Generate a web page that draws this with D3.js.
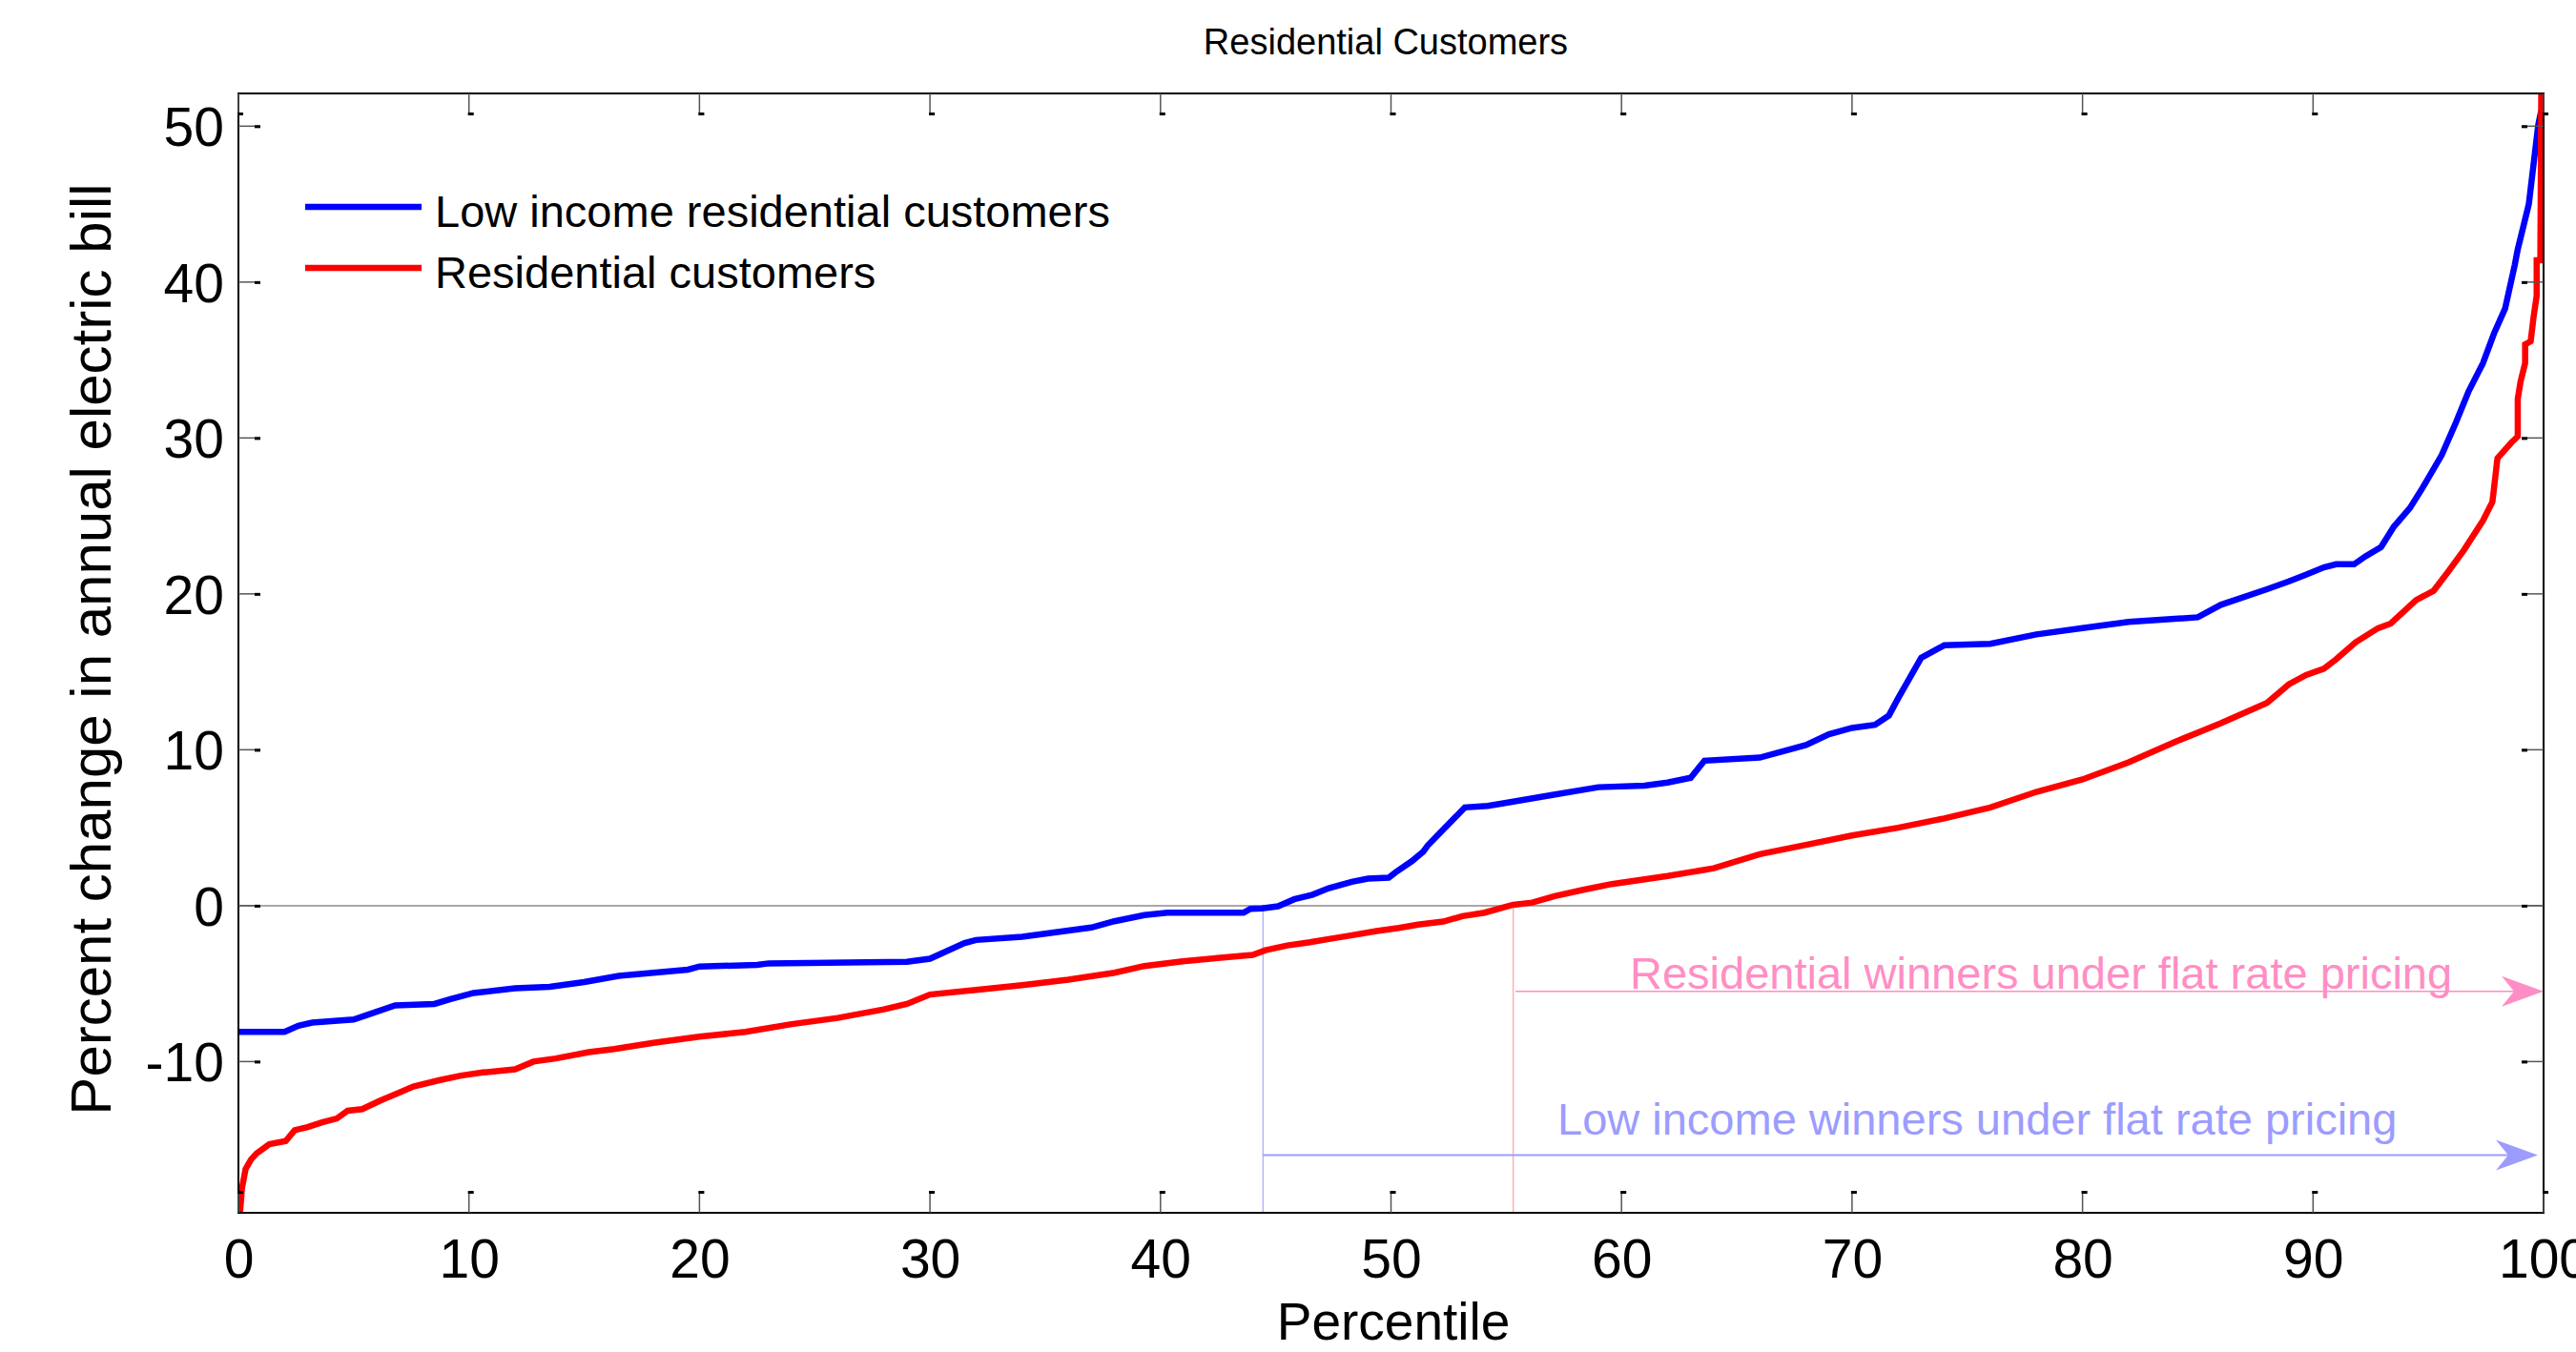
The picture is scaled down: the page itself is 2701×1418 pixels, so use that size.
<!DOCTYPE html>
<html>
<head>
<meta charset="utf-8">
<script src="https://cdn.jsdelivr.net/npm/d3@7"></script>
<style>
  html, body { margin: 0; padding: 0; background: #fff; }
  svg { display: block; font-family: "Liberation Sans", Arial, sans-serif; }
</style>
</head>
<body>
<svg id="chart" width="2701" height="1418"></svg>
<script>
// Percent change in annual bill by customer percentile: [percentile, percent change]
const lowIncome = [
  [0,-8.1],[2.0,-8.1],[2.6,-7.7],[3.2,-7.5],[5.0,-7.3],[5.6,-7.0],[6.8,-6.4],[8.5,-6.3],
  [9.2,-6.0],[10.2,-5.6],[12.0,-5.3],[13.5,-5.2],[15.0,-4.9],[16.5,-4.5],[18.0,-4.3],
  [19.5,-4.1],[20.0,-3.9],[22.5,-3.8],[23.0,-3.7],[29.0,-3.6],[30.0,-3.4],[31.5,-2.4],
  [32.0,-2.2],[34.0,-2.0],[35.0,-1.8],[37.0,-1.4],[38.0,-1.0],[39.3,-0.6],[40.3,-0.45],
  [43.6,-0.45],[43.9,-0.2],[44.4,-0.17],[45.1,-0.04],[45.8,0.41],[46.6,0.71],[47.3,1.12],
  [48.3,1.53],[49.0,1.73],[49.9,1.79],[50.2,2.14],[50.9,2.85],[51.4,3.47],[51.6,3.87],
  [53.2,6.3],[54.2,6.4],[55.0,6.6],[57.0,7.1],[59.0,7.6],[61.0,7.7],[62.0,7.9],[63.0,8.2],
  [63.6,9.3],[66.0,9.5],[68.0,10.3],[69.0,11.0],[70.0,11.4],[71.0,11.6],[71.6,12.2],
  [72.0,13.3],[73.0,15.9],[74.0,16.7],[76.0,16.8],[78.0,17.4],[80.0,17.8],[82.0,18.2],
  [84.0,18.4],[85.0,18.5],[86.0,19.3],[88.0,20.3],[88.95,20.8],[89.64,21.2],[90.47,21.7],
  [91.0,21.9],[91.78,21.9],[92.26,22.4],[92.95,23.0],[93.5,24.3],[94.2,25.5],[94.75,26.8],
  [95.58,28.9],[96.2,31.0],[96.75,33.0],[97.37,34.8],[97.85,36.7],[98.33,38.3],[98.75,41.1],
  [98.88,42.1],[99.36,45.0],[99.77,50.1],[99.9,51.0]
];

const residential = [
  [0.07,-19.7],[0.15,-18.15],[0.31,-16.9],[0.54,-16.3],[0.78,-15.9],[1.34,-15.3],[2.05,-15.1],
  [2.44,-14.4],[3.0,-14.2],[3.63,-13.9],[4.27,-13.65],[4.74,-13.15],[5.37,-13.05],[6.16,-12.5],
  [6.8,-12.1],[7.59,-11.6],[8.7,-11.2],[9.65,-10.9],[10.6,-10.7],[12.0,-10.5],[12.8,-10.0],
  [13.77,-9.8],[15.2,-9.4],[16.3,-9.2],[18.0,-8.8],[20.0,-8.4],[22.0,-8.1],[24.0,-7.6],
  [26.0,-7.2],[28.0,-6.65],[29.0,-6.3],[30.0,-5.7],[32.0,-5.4],[34.0,-5.1],[36.0,-4.75],
  [38.0,-4.3],[39.3,-3.87],[40.96,-3.57],[42.48,-3.36],[44.0,-3.16],[44.55,-2.86],[45.5,-2.55],
  [46.48,-2.35],[47.3,-2.14],[48.13,-1.94],[49.37,-1.63],[50.34,-1.43],[51.17,-1.22],
  [52.27,-1.02],[53.1,-0.67],[54.06,-0.45],[54.89,-0.1],[55.3,0.06],[56.13,0.2],[57.1,0.61],
  [58.34,1.02],[59.58,1.39],[62.0,1.9],[64.0,2.4],[66.0,3.3],[68.0,3.9],[70.0,4.5],[72.0,5.0],
  [74.0,5.6],[76.0,6.3],[78.0,7.3],[80.0,8.1],[82.0,9.2],[84.0,10.5],[86.0,11.7],[88.0,13.0],
  [88.95,14.2],[89.7,14.8],[90.47,15.2],[91.0,15.8],[91.85,16.9],[92.82,17.8],[93.37,18.1],
  [94.47,19.6],[95.23,20.2],[95.85,21.4],[96.54,22.8],[97.37,24.7],[97.78,25.9],[98.0,28.7],
  [98.6,29.7],[98.88,30.1],[98.88,32.5],[99.0,33.6],[99.2,34.8],[99.2,36.0],[99.44,36.2],
  [99.57,37.8],[99.7,39.1],[99.7,41.4],[99.86,41.4],[99.9,52.1]
];

const seriesNames = ["Low income residential customers", "Residential customers"];
const seriesColors = ["#0000ff", "#ff0000"];

const xTicks = [0, 10, 20, 30, 40, 50, 60, 70, 80, 90, 100];
const yTicks = [-10, 0, 10, 20, 30, 40, 50];
const xDomain = [0, 100];
const yDomain = [-19.7, 52.1];

// Break-even percentiles and the winner ranges marked with arrows
const lowIncomeBreakEven = 44.45;
const residentialBreakEven = 55.3;
const winnerArrows = [
  { label: "Residential winners under flat rate pricing", from: 55.4, to: 100, y: -5.5,
    color: "#ff8ec4", width: 1.6, textX: 1709, textDy: -3 },
  { label: "Low income winners under flat rate pricing", from: 44.45, to: 99.75, y: -16.0,
    color: "#9c9cff", width: 2.2, textX: 1633, textDy: -22 }
];

const svg = d3.select("#chart");
const W = 2701, H = 1418;
const margin = { left: 250, right: 34, top: 98, bottom: 146 };

const x = d3.scaleLinear().domain(xDomain).range([margin.left, W - margin.right]);
const y = d3.scaleLinear().domain(yDomain).range([H - margin.bottom, margin.top]);

const x0 = x.range()[0], x1 = x.range()[1];
const yB = y.range()[0], yT = y.range()[1];

// Title
svg.append("text")
  .attr("x", 1453).attr("y", 57)
  .attr("text-anchor", "middle")
  .attr("font-size", 38)
  .text("Residential Customers");

// Zero reference line
svg.append("line")
  .attr("x1", x0).attr("x2", x1)
  .attr("y1", y(0)).attr("y2", y(0))
  .attr("stroke", "#a8a8a8").attr("stroke-width", 2);

// Break-even verticals
svg.append("line")
  .attr("x1", x(lowIncomeBreakEven)).attr("x2", x(lowIncomeBreakEven))
  .attr("y1", y(0)).attr("y2", yB)
  .attr("stroke", "#b4b4ff").attr("stroke-width", 1.5);
svg.append("line")
  .attr("x1", x(residentialBreakEven)).attr("x2", x(residentialBreakEven))
  .attr("y1", y(0)).attr("y2", yB)
  .attr("stroke", "#ffb0b0").attr("stroke-width", 1.5);

// Winner arrows with labels
winnerArrows.forEach(a => {
  const ax = x(a.from), bx = x(a.to), ay = y(a.y);
  const L = 44, Wd = 16, notch = 13;
  svg.append("line")
    .attr("x1", ax).attr("x2", bx - L + notch)
    .attr("y1", ay).attr("y2", ay)
    .attr("stroke", a.color).attr("stroke-width", a.width);
  svg.append("path")
    .attr("d", `M${bx},${ay} L${bx - L},${ay - Wd} L${bx - L + notch},${ay} L${bx - L},${ay + Wd} Z`)
    .attr("fill", a.color);
  svg.append("text")
    .attr("x", a.textX).attr("y", ay + a.textDy)
    .attr("font-size", 47)
    .attr("fill", a.color)
    .text(a.label);
});

// Series lines
const line = d3.line().x(d => x(d[0])).y(d => y(d[1]));
svg.append("clipPath").attr("id", "plotClip")
  .append("rect").attr("x", x0).attr("y", yT - 4).attr("width", x1 - x0 + 4).attr("height", yB - yT + 8);

[lowIncome, residential].forEach((data, i) => {
  svg.append("path")
    .datum(data)
    .attr("clip-path", "url(#plotClip)")
    .attr("fill", "none")
    .attr("stroke", seriesColors[i])
    .attr("stroke-width", 6.5)
    .attr("stroke-linejoin", "miter")
    .attr("d", line);
});

// Axes box
svg.append("rect")
  .attr("x", x0).attr("y", yT)
  .attr("width", x1 - x0).attr("height", yB - yT)
  .attr("fill", "none").attr("stroke", "#000").attr("stroke-width", 2);

// Inward ticks on all four sides
const tickLen = 23;
const tickG = svg.append("g");
xTicks.forEach(t => {
  const tx = x(t);
  [[yB, -1], [yT, 1]].forEach(([base, dir]) => {
    tickG.append("line")
      .attr("x1", tx).attr("x2", tx)
      .attr("y1", base).attr("y2", base + dir * tickLen)
      .attr("stroke", "#555").attr("stroke-width", 1.5);
    tickG.append("rect")
      .attr("x", tx - 1).attr("y", base + dir * tickLen - (dir < 0 ? 0 : 3))
      .attr("width", 6).attr("height", 3).attr("fill", "#000");
  });
});
yTicks.forEach(t => {
  const ty = y(t);
  [[x0, 1], [x1, -1]].forEach(([base, dir]) => {
    tickG.append("line")
      .attr("x1", base).attr("x2", base + dir * tickLen)
      .attr("y1", ty).attr("y2", ty)
      .attr("stroke", "#555").attr("stroke-width", 1.5);
    tickG.append("rect")
      .attr("x", base + dir * tickLen - (dir > 0 ? 6 : 0)).attr("y", ty - 1)
      .attr("width", 6).attr("height", 3).attr("fill", "#000");
  });
});

// Tick labels via d3 axes (tick marks hidden, drawn above)
const xAxis = d3.axisBottom(x).tickValues(xTicks).tickFormat(d3.format("d")).tickSize(0).tickPadding(0);
const gx = svg.append("g").attr("transform", `translate(0,${yB})`).call(xAxis);
gx.select(".domain").remove();
gx.selectAll("text")
  .attr("font-size", 57).attr("font-family", "Liberation Sans, Arial, sans-serif")
  .attr("fill", "#000").attr("y", 68).attr("dy", null);

const yAxis = d3.axisLeft(y).tickValues(yTicks).tickFormat(d => String(d)).tickSize(0).tickPadding(0);
const gy = svg.append("g").attr("transform", `translate(${x0},0)`).call(yAxis);
gy.select(".domain").remove();
gy.selectAll("text")
  .attr("font-size", 57).attr("font-family", "Liberation Sans, Arial, sans-serif")
  .attr("fill", "#000").attr("x", -15).attr("dy", "0.36em");

// Axis titles
svg.append("text")
  .attr("x", 1461).attr("y", 1405)
  .attr("text-anchor", "middle")
  .attr("font-size", 55)
  .text("Percentile");

svg.append("text")
  .attr("transform", "translate(116,681) rotate(-90)")
  .attr("text-anchor", "middle")
  .attr("font-size", 60)
  .text("Percent change in annual electric bill");

// Legend
const legend = svg.append("g");
seriesNames.forEach((name, i) => {
  const ly = 217 + i * 64;
  legend.append("line")
    .attr("x1", 320).attr("x2", 442)
    .attr("y1", ly).attr("y2", ly)
    .attr("stroke", seriesColors[i]).attr("stroke-width", 6.5);
  legend.append("text")
    .attr("x", 456).attr("y", ly + 21)
    .attr("font-size", 47)
    .text(name);
});
</script>
</body>
</html>
